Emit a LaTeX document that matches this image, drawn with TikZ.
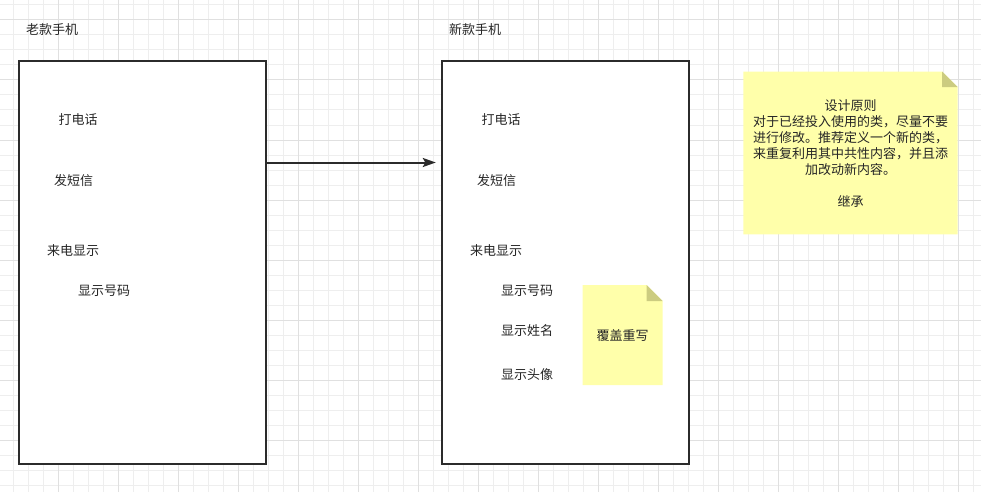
\documentclass[tikz,border=0pt]{standalone}
\usepackage{fontspec}
\setmainfont{Noto Sans CJK SC}
\usetikzlibrary{arrows.meta,calc}
\definecolor{linec}{HTML}{2B2B2B}
\definecolor{txtc}{HTML}{262626}
\definecolor{gridminor}{HTML}{EEEEEE}
\definecolor{gridmajor}{HTML}{E0E0E0}
\definecolor{notey}{HTML}{FFFFAA}
\definecolor{notefold}{HTML}{CCCC80}
\begin{document}
\begin{tikzpicture}[x=1pt,y=-1pt,
  minorline/.style={draw=gridminor, line width=1pt},
  majorline/.style={draw=gridmajor, line width=1pt},
  phonebox/.style={draw=linec, line width=2pt, fill=white, inner sep=0pt, outer sep=0pt, anchor=north west, minimum width=246.8pt, minimum height=403.1pt},
  lbl/.style={text=txtc, font=\fontsize{13}{16}\selectfont, inner sep=0pt, yshift=-1pt},
  notebox/.style={inner sep=0pt, outer sep=0pt},
  conn/.style={draw=linec, line width=2pt, -{Stealth[length=13pt,width=9pt,inset=2.5pt]}}
]
\useasboundingbox (0,0) rectangle (981,492);
\fill[white] (0,0) rectangle (981,492);
% grid
\foreach \i in {0,...,64} \draw[minorline] ({13.3+15*\i},0) -- ({13.3+15*\i},492);
\foreach \j in {0,...,32} \draw[minorline] (0,{5+15*\j}) -- (981,{5+15*\j});
\foreach \i in {1,...,16} \draw[majorline] ({-1.7+60*\i},0) -- ({-1.7+60*\i},492);
\foreach \j in {0,...,7} \draw[majorline] (0,{20+60*\j}) -- (981,{20+60*\j});

% titles
\node[lbl] (oldtitle) at (52,29) {老款手机};
\node[lbl] (newtitle) at (475,29) {新款手机};

% boxes
\node[phonebox] (box1) at (18.8,61.2) {};
\node[phonebox] (box2) at (441.8,61.2) {};

% old phone texts
\node[lbl] (o1) at (78,119) {打电话};
\node[lbl] (o2) at (73.5,180) {发短信};
\node[lbl] (o3) at (73,250) {来电显示};
\node[lbl] (o4) at (104,290) {显示号码};

% new phone texts
\node[lbl] (n1) at (501,119) {打电话};
\node[lbl] (n2) at (496.5,180) {发短信};
\node[lbl] (n3) at (496,250) {来电显示};
\node[lbl] (n4) at (527,290) {显示号码};
\node[lbl] (n5) at (527,330) {显示姓名};
\node[lbl] (n6) at (527,374) {显示头像};

% arrow
\coordinate (ylevel) at (0,162.5);
\draw[conn, shorten >=6pt] (box1.east |- ylevel) -- (box2.west |- ylevel);

% note 1
\node[notebox, minimum width=80pt, minimum height=100pt] (note1) at (622.7,335) {};
\fill[notey] (note1.north west) -- ([xshift=-16pt]note1.north east) -- ([yshift=-16pt]note1.north east) -- (note1.south east) -- (note1.south west) -- cycle;
\fill[notefold] ([xshift=-16pt]note1.north east) -- ([yshift=-16pt]note1.north east) -- ([xshift=-16pt,yshift=-16pt]note1.north east) -- cycle;
\node[lbl] (note1text) at (note1.center) {覆盖重写};

% note 2
\node[notebox, minimum width=214.4pt, minimum height=162.6pt] (note2) at (850.5,153) {};
\fill[notey] (note2.north west) -- ([xshift=-15.5pt]note2.north east) -- ([yshift=-15.5pt]note2.north east) -- (note2.south east) -- (note2.south west) -- cycle;
\fill[notefold] ([xshift=-15.5pt]note2.north east) -- ([yshift=-15.5pt]note2.north east) -- ([xshift=-15.5pt,yshift=-15.5pt]note2.north east) -- cycle;
\node[lbl, align=center] (note2text) at (note2.center) {设计原则\\对于已经投入使用的类，尽量不要\\进行修改。推荐定义一个新的类，\\来重复利用其中共性内容，并且添\\加改动新内容。\\[16pt]继承};
\end{tikzpicture}
\end{document}
